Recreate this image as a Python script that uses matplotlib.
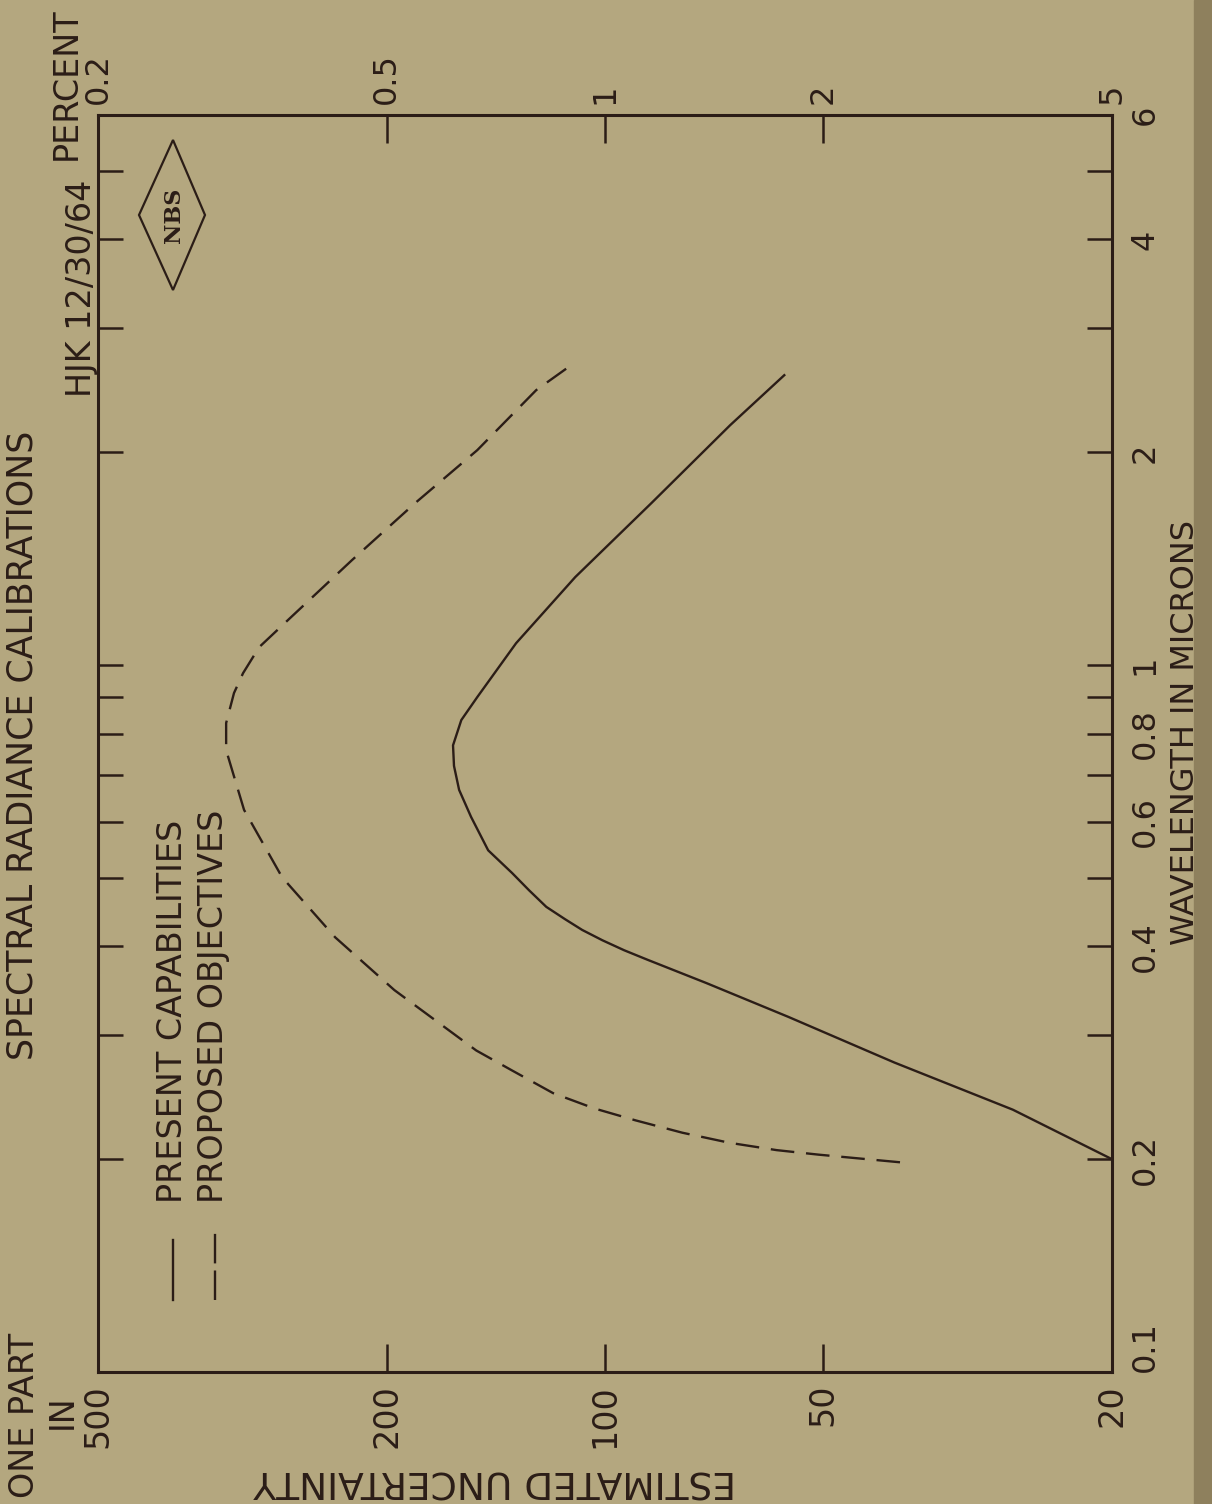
import matplotlib
matplotlib.use("Agg")
import matplotlib.pyplot as plt
from matplotlib.ticker import FixedLocator, NullLocator
from matplotlib.transforms import blended_transform_factory
from matplotlib.lines import Line2D
from matplotlib.patches import Polygon, Rectangle

# ======================
# DATA
# ======================
# present capabilities: wavelength (microns) vs uncertainty (one part in)
present_wl = [0.200, 0.235, 0.274, 0.318, 0.355, 0.383, 0.395, 0.408, 0.422,
              0.437, 0.455, 0.480, 0.508, 0.547, 0.610, 0.666, 0.720, 0.770,
              0.836, 0.901, 1.074, 1.332, 1.695, 2.185, 2.571]
present_u = [20.0, 27.4, 39.9, 55.9, 72.5, 87.4, 94.1, 100.8, 107.5,
             113.5, 120.5, 127.2, 134.3, 144.9, 153.0, 158.9, 161.5, 162.0,
             157.8, 150.0, 132.6, 109.9, 86.3, 67.2, 56.6]

# proposed objectives
proposed_wl = [0.198, 0.203, 0.206, 0.211, 0.218, 0.227, 0.236, 0.248, 0.267,
               0.285, 0.347, 0.412, 0.501, 0.624, 0.758, 0.828, 0.913, 0.974,
               1.060, 1.169, 1.408, 1.695, 2.014, 2.449, 2.657]
proposed_u = [39.2, 50.8, 58.0, 67.4, 78.2, 90.8, 103.5, 117.9, 134.3,
              150.5, 195.2, 235.5, 278.7, 314.5, 332.9, 332.9, 324.7, 315.5,
              299.8, 270.9, 223.2, 182.7, 150.0, 124.4, 111.3]

wl_ticks = [0.2, 0.3, 0.4, 0.5, 0.6, 0.7, 0.8, 0.9, 1, 2, 3, 4, 5]
wl_label_vals = [0.1, 0.2, 0.4, 0.6, 0.8, 1, 2, 4, 6]
wl_label_text = ["0.1", "0.2", "0.4", "0.6", "0.8", "1", "2", "4", "6"]

u_ticks = [200, 100, 50]
u_label_vals = [500, 200, 100, 50, 20]
u_label_text = ["500", "200", "100", "50", "20"]

pct_vals = [0.2, 0.5, 1, 2, 5]
pct_text = ["0.2", "0.5", "1", "2", "5"]

legend_text = ["PRESENT CAPABILITIES", "PROPOSED OBJECTIVES"]

# ======================
# STYLE
# ======================
paper = "#b4a77f"
ink = "#2b1d17"
W, H = 1212, 1504
plt.rcParams["font.family"] = ["DejaVu Sans"]


def fx(px):
    return px / W


def fy(py):
    return 1 - py / H


fig = plt.figure(figsize=(W / 100, H / 100), dpi=100, facecolor=paper)

# darker scan edge on the right
fig.patches.append(Rectangle((fx(1194), 0), fx(W) - fx(1194), 1,
                             transform=fig.transFigure, color="#8e805d", zorder=0))

ax = fig.add_axes([fx(98), fy(1372), fx(1112) - fx(98), fy(115) - fy(1372)])
ax.set_facecolor("none")

# ======================
# CURVES
# ======================
ax.plot(present_u, present_wl, color=ink, lw=1.7)
ax.plot(proposed_u, proposed_wl, color=ink, lw=1.7, ls=(0, (10, 5)))

ax.set_xscale("log")
ax.set_yscale("log")
ax.set_xlim(500, 20)
ax.set_ylim(0.1, 6)

ax.xaxis.set_major_locator(FixedLocator(u_ticks))
ax.xaxis.set_minor_locator(NullLocator())
ax.yaxis.set_major_locator(FixedLocator(wl_ticks))
ax.yaxis.set_minor_locator(NullLocator())
ax.tick_params(axis="x", direction="in", top=True, bottom=True, length=20,
               width=1.8, color=ink, labelbottom=False, labeltop=False)
ax.tick_params(axis="y", direction="in", left=True, right=True, length=18,
               width=1.8, color=ink, labelleft=False, labelright=False)
for s in ax.spines.values():
    s.set_linewidth(2.2)
    s.set_color(ink)

# ======================
# TICK LABELS (rotated page)
# ======================
trans_r = blended_transform_factory(ax.transAxes, ax.transData)
xr = 1 + (1145 - 1112) / (1112 - 98)
for v, t in zip(wl_label_vals, wl_label_text):
    ax.text(xr, v, t, transform=trans_r, rotation=90, ha="center",
            va="bottom" if v == 0.1 else "center", fontsize=23, color=ink)

trans_b = blended_transform_factory(ax.transData, ax.transAxes)
for v, t in zip(u_label_vals, u_label_text):
    ax.text(v, -12 / 1257, t, transform=trans_b, rotation=90, ha="center",
            va="top", fontsize=24, color=ink)

for p, t in zip(pct_vals, pct_text):
    ax.text(100 / p, 1 + 11 / 1257, t, transform=trans_b, rotation=90,
            ha="center", va="bottom", fontsize=23, color=ink)

# ======================
# TEXTS
# ======================
fig.text(fx(23), fy(745), "SPECTRAL RADIANCE CALIBRATIONS", rotation=90,
         ha="center", va="center", fontsize=25, color=ink)
fig.text(fx(82), fy(288), "HJK 12/30/64", rotation=90,
         ha="center", va="center", fontsize=24, color=ink)
fig.text(fx(66), fy(84), "PERCENT", rotation=90,
         ha="center", va="center", fontsize=24, color=ink)
fig.text(fx(25), fy(1415), "ONE PART", rotation=90,
         ha="center", va="center", fontsize=24, color=ink)
fig.text(fx(62), fy(1412), "IN", rotation=90,
         ha="center", va="center", fontsize=24, color=ink)
fig.text(fx(1186), fy(733), "WAVELENGTH IN MICRONS", rotation=90,
         ha="center", va="center", fontsize=23, color=ink)
fig.text(fx(495), fy(1480), "ESTIMATED UNCERTAINTY", rotation=180,
         ha="center", va="center", fontsize=27, color=ink)

# legend (drawn by hand, it sits sideways)
fig.lines.append(Line2D([fx(173), fx(173)], [fy(1300), fy(1240)],
                        transform=fig.transFigure, color=ink, lw=1.7))
fig.lines.append(Line2D([fx(215), fx(215)], [fy(1300), fy(1233)],
                        transform=fig.transFigure, color=ink, lw=1.7,
                        ls=(0, (12.5, 3))))
fig.text(fx(172), fy(1203), legend_text[0], rotation=90,
         ha="center", va="bottom", fontsize=24, color=ink)
fig.text(fx(214), fy(1203), legend_text[1], rotation=90,
         ha="center", va="bottom", fontsize=24, color=ink)

# NBS diamond
fig.patches.append(Polygon([[fx(173), fy(140)], [fx(205), fy(215)],
                            [fx(173), fy(290)], [fx(139), fy(215)]],
                           closed=True, fill=False, edgecolor=ink, lw=1.6,
                           transform=fig.transFigure))
fig.text(fx(174), fy(215), "NBS", rotation=90, ha="center", va="center",
         fontsize=16, fontweight="bold", family="DejaVu Serif", color=ink)

fig.savefig("out.png", dpi=100, facecolor=paper)
